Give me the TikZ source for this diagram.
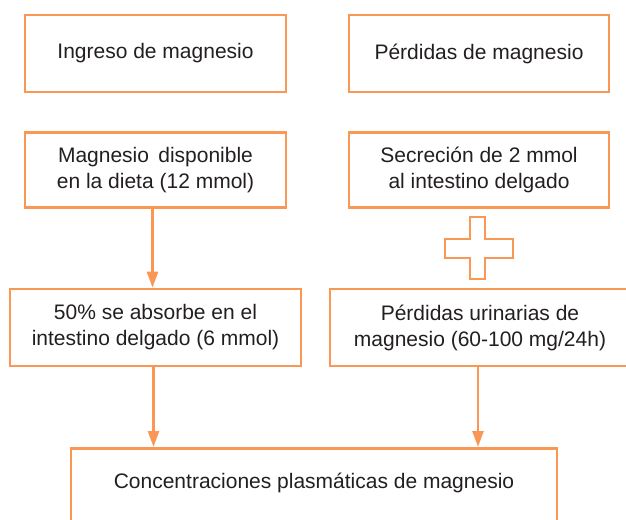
\documentclass[tikz,border=0pt]{standalone}
\usepackage{fontspec}
\setmainfont{Liberation Sans}
\usepackage{tikz}
\usetikzlibrary{arrows.meta}
\definecolor{naranja}{RGB}{248,152,84}
\definecolor{texto}{RGB}{35,31,32}
\tikzset{
	caja/.style={draw=naranja, line width=2.6pt, text=texto, align=center, inner sep=0pt},
	flecha/.style={draw=naranja, line width=2.6pt, -{Triangle[width=11pt,length=16pt]}}
}

\begin{document}
\begin{tikzpicture}[x=1pt,y=-1pt, font=\fontsize{21}{26}\selectfont]
				\useasboundingbox (0,0) rectangle (626,519);
				\node[caja, minimum width=261, minimum height=77] (ingreso) at (155.5,53.5) {Ingreso de magnesio};
				\node[caja, minimum width=260, minimum height=77] (perdidas) at (479,53.5) {Pérdidas de magnesio};
				\node[caja, minimum width=261, minimum height=75] (dieta) at (155.5,170) {Magnesio\, disponible\\en la dieta (12 mmol)};
				\node[caja, minimum width=260, minimum height=75] (secrecion) at (479,170) {Secreción de 2 mmol\\al intestino delgado};
				\node[caja, minimum width=291, minimum height=77] (absorbe) at (155.5,327.5) {50\% se absorbe en el\\intestino delgado (6 mmol)};
				\node[caja, minimum width=300, minimum height=77] (urinarias) at (480,327.5) {Pérdidas urinarias de\\magnesio (60-100 mg/24h)};
				\node[caja, minimum width=486, minimum height=100, anchor=north] (plasma) at (314,447) {};
				\node[text=texto] (plasmatexto) at (314,483) {Concentraciones plasmáticas de magnesio};
				% signo mas
				\draw[naranja, line width=2.2pt] (470,217) -- (485,217) -- (485,239) -- (513,239) -- (513,258) -- (485,258) -- (485,279) -- (470,279) -- (470,258) -- (445,258) -- (445,239) -- (470,239) -- cycle;
				\draw[flecha] ([xshift=-3pt]dieta.south) -- ([xshift=-3pt]absorbe.north);
				\draw[flecha] ([xshift=-2pt]absorbe.south) -- ([xshift=-2pt]absorbe.south |- plasma.north);
				\draw[flecha] ([xshift=-2pt]urinarias.south) -- ([xshift=-2pt]urinarias.south |- plasma.north);
			\end{tikzpicture}
\end{document}
